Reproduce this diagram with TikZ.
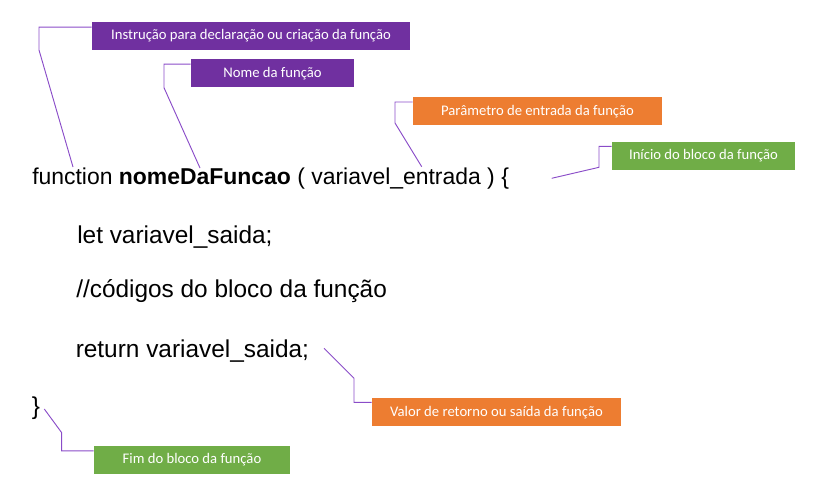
\documentclass[tikz,border=0pt]{standalone}
\usepackage{fontspec}
\setmainfont{Liberation Sans}
\newfontfamily\tagfont{Carlito}
\usepackage{tikz}
\usetikzlibrary{positioning}

\definecolor{tagpurple}{HTML}{7030A0}
\definecolor{tagorange}{HTML}{ED7D31}
\definecolor{taggreen}{HTML}{70AD47}
\definecolor{leadcol}{HTML}{8A4CC8}

\tikzset{
  tag/.style={minimum height=21pt, inner sep=0pt, text=white,
    font=\tagfont\fontsize{11}{13}\selectfont},
  code/.style={anchor=base west, inner sep=0pt,
    font=\fontsize{18.3}{21}\selectfont},
  leader/.style={draw=leadcol, line width=0.7pt}
}

\begin{document}
\begin{tikzpicture}[x=0.75pt, y=-0.75pt]
    \useasboundingbox (0,0) rectangle (831,496);

    % linhas de codigo
    \node[code, font=\fontsize{17.2}{20}\selectfont] (fnline) at (32,184)
      {function \textbf{nomeDaFuncao} ( variavel\_entrada ) \{};
    \node[code] (letline) at (77,243) {let variavel\_saida;};
    \node[code] (cmtline) at (76,297.5) {//códigos do bloco da função};
    \node[code] (retline) at (75.5,357.5) {return variavel\_saida;};
    \node[code] (closeline) at (31.5,414) {\}};

    % etiquetas
    \node[tag, fill=tagpurple,
      minimum width=238.5pt] (instr) at (251,36)
      {Instrução para declaração ou criação da função};

    \node[tag, fill=tagpurple,
      minimum width=122.25pt] (nome) at (272.5,73.3) {Nome da função};

    \node[tag, fill=tagorange,
      minimum width=186.75pt] (param) at (537.5,111.2)
      {Parâmetro de entrada da função};

    \node[tag, fill=taggreen,
      minimum width=137.25pt] (inicio) at (703.5,155.5)
      {Início do bloco da função};

    \node[tag, fill=tagorange,
      minimum width=186.75pt] (valor) at (496.5,412.2)
      {Valor de retorno ou saída da função};

    \node[tag, fill=taggreen,
      minimum width=147pt] (fim) at (192,460) {Fim do bloco da função};

    % pontos das linhas de chamada
    \coordinate (instrKnee) at (39,50);
    \coordinate (instrTip) at (73,167);
    \coordinate (nomeKnee) at (164,87.7);
    \coordinate (nomeTip) at (200,168);
    \coordinate (paramKnee) at (395,123);
    \coordinate (paramTip) at (421.7,166.7);
    \coordinate (inicioKnee) at (599,167.3);
    \coordinate (inicioTip) at (551.7,178.3);
    \coordinate (valorKnee) at (354,378.3);
    \coordinate (valorTip) at (324,348.3);
    \coordinate (fimKnee) at (61.7,432.7);
    \coordinate (fimTip) at (44.3,409);

    \draw[leader] ([yshift=-4pt]instr.north west) -| (instrKnee) -- (instrTip);
    \draw[leader] ([yshift=-3.8pt]nome.north west) -| (nomeKnee) -- (nomeTip);
    \draw[leader] ([yshift=-3.8pt]param.north west) -| (paramKnee) -- (paramTip);
    \draw[leader] ([yshift=-3.8pt]inicio.north west) -| (inicioKnee) -- (inicioTip);
    \draw[leader] ([yshift=-3.3pt]valor.north west) -| (valorKnee) -- (valorTip);
    \draw[leader] ([yshift=-3.8pt]fim.north west) -| (fimKnee) -- (fimTip);
\end{tikzpicture}
\end{document}
